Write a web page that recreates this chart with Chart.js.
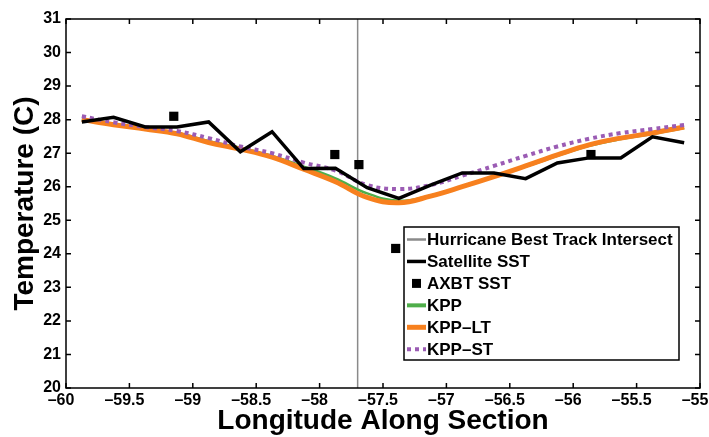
<!DOCTYPE html>
<html>
<head>
<meta charset="utf-8">
<script src="https://cdn.jsdelivr.net/npm/chart.js@4"></script>
<style>
  html, body { margin: 0; padding: 0; background: #fff; }
  #wrap { width: 709px; height: 437px; }
</style>
</head>
<body>
<div id="wrap"><canvas id="sstChart" width="709" height="437"></canvas></div>
<script>
// longitude grid of the section (deg)
const lonGrid = [-59.875, -59.625, -59.375, -59.125, -58.875, -58.625, -58.375, -58.125, -57.875, -57.625,
                 -57.375, -57.125, -56.875, -56.625, -56.375, -56.125, -55.875, -55.625, -55.375, -55.125];
const satelliteSST = [27.93, 28.07, 27.78, 27.78, 27.93, 27.04, 27.64, 26.54, 26.55, 25.97,
                      25.65, 26.05, 26.41, 26.41, 26.24, 26.71, 26.86, 26.86, 27.49, 27.31];
const kppSST   = [28.02, 27.86, 27.73, 27.6, 27.36, 27.16, 26.92, 26.6, 26.25, 25.8,
                  25.58, 25.74, 26.0, 26.3, 26.6, 26.92, 27.22, 27.42, 27.57, 27.75];
const kppLTSST = [28.0, 27.85, 27.72, 27.58, 27.32, 27.12, 26.88, 26.52, 26.15, 25.68,
                  25.52, 25.72, 26.0, 26.3, 26.62, 26.95, 27.25, 27.45, 27.6, 27.78];
const kppSTSST = [28.1, 27.92, 27.78, 27.66, 27.45, 27.2, 27.0, 26.72, 26.48, 26.05,
                  25.93, 26.05, 26.33, 26.62, 26.92, 27.2, 27.43, 27.6, 27.72, 27.84];
// AXBT drops
const axbtLon = [-59.15, -57.88, -57.69, -57.4, -55.86];
const axbtSST = [28.1, 26.96, 26.66, 24.16, 26.96];
// best track crossing
const trackLon = -57.7;
const yRange = [20, 31];
const xRange = [-60, -55];

const FONT = '"Liberation Sans", Arial, Helvetica, sans-serif';

function pts(xs, ys) {
    return xs.map((x, i) => ({ x: x, y: ys[i] }));
}

const framePlugin = {
    id: 'frame',
    afterDraw(chart) {
        const ctx = chart.ctx;
        const a = chart.chartArea;
        const xs = chart.scales.x, ys = chart.scales.y;
        ctx.save();
        ctx.strokeStyle = '#000';
        ctx.lineWidth = 1.5;
        ctx.strokeRect(a.left, a.top, a.right - a.left, a.bottom - a.top);
        ctx.beginPath();
        xs.ticks.forEach(t => {
            const px = xs.getPixelForValue(t.value);
            ctx.moveTo(px, a.bottom); ctx.lineTo(px, a.bottom - 5);
            ctx.moveTo(px, a.top); ctx.lineTo(px, a.top + 5);
        });
        ys.ticks.forEach(t => {
            const py = ys.getPixelForValue(t.value);
            ctx.moveTo(a.left, py); ctx.lineTo(a.left + 5, py);
            ctx.moveTo(a.right, py); ctx.lineTo(a.right - 5, py);
        });
        ctx.stroke();

        // legend box inside the plot
        const bx = 404, by = 227, bw = 275, bh = 133;
        ctx.fillStyle = '#fff';
        ctx.fillRect(bx, by, bw, bh);
        ctx.strokeRect(bx, by, bw, bh);
        ctx.font = 'bold 17px ' + FONT;
        ctx.textBaseline = 'middle';
        ctx.textAlign = 'left';
        chart.data.datasets.forEach((ds, i) => {
            const cy = by + 12.5 + i * 21.95;
            if (ds.showLine === false) {
                ctx.fillStyle = ds.backgroundColor;
                ctx.fillRect(412, cy - 4.5, 9, 9);
            } else {
                ctx.beginPath();
                ctx.strokeStyle = ds.borderColor;
                ctx.lineWidth = ds.legendWidth || ds.borderWidth;
                ctx.setLineDash(ds.borderDash || []);
                ctx.moveTo(407, cy);
                ctx.lineTo(426, cy);
                ctx.stroke();
                ctx.setLineDash([]);
            }
            ctx.fillStyle = '#000';
            ctx.fillText(ds.label, 427, cy + 1);
        });
        ctx.restore();
    }
};

const fmt = v => String(v).replace('-', '\u2013');

const ctx = document.getElementById('sstChart').getContext('2d');
const chart = new Chart(ctx, {
    type: 'scatter',
    data: {
        datasets: [
            {
                label: 'Hurricane Best Track Intersect',
                data: pts([trackLon, trackLon], yRange),
                showLine: true,
                borderColor: '#8a8a8a',
                borderWidth: 1.5,
                legendWidth: 2.5,
                pointRadius: 0,
                order: 6
            },
            {
                label: 'Satellite SST',
                data: pts(lonGrid, satelliteSST),
                showLine: true,
                borderColor: '#000',
                borderWidth: 3.5,
                pointRadius: 0,
                tension: 0,
                order: 1
            },
            {
                label: 'AXBT SST',
                data: pts(axbtLon, axbtSST),
                showLine: false,
                backgroundColor: '#000',
                borderColor: '#000',
                pointStyle: 'rect',
                pointRadius: 6.5,
                borderWidth: 0,
                order: 0
            },
            {
                label: 'KPP',
                data: pts(lonGrid, kppSST),
                showLine: true,
                borderColor: '#4fae4a',
                borderWidth: 2.5,
                legendWidth: 4,
                pointRadius: 0,
                tension: 0.4,
                order: 4
            },
            {
                label: 'KPP\u2013LT',
                data: pts(lonGrid, kppLTSST),
                showLine: true,
                borderColor: '#f7801e',
                borderWidth: 5,
                pointRadius: 0,
                tension: 0.4,
                order: 3
            },
            {
                label: 'KPP\u2013ST',
                data: pts(lonGrid, kppSTSST),
                showLine: true,
                borderColor: '#9b5cb4',
                borderWidth: 4,
                borderDash: [4, 4],
                legendWidth: 4,
                pointRadius: 0,
                tension: 0.4,
                order: 2
            }
        ]
    },
    options: {
        responsive: false,
        animation: false,
        layout: { padding: { left: 0, right: 9, top: 19, bottom: 0 } },
        plugins: { legend: { display: false }, tooltip: { enabled: false } },
        scales: {
            x: {
                type: 'linear',
                min: xRange[0], max: xRange[1],
                grid: { display: false, drawTicks: false },
                border: { display: false },
                ticks: {
                    stepSize: 0.5, padding: 3, labelOffset: -5, color: '#000',
                    font: { family: FONT, size: 16, weight: 'bold' },
                    maxRotation: 0, autoSkip: false,
                    callback: v => fmt(v)
                },
                title: {
                    display: true, text: 'Longitude Along Section', color: '#000',
                    font: { family: FONT, size: 28, weight: 'bold', lineHeight: 1 },
                    padding: { top: 0, bottom: 2 }
                },
                afterFit: s => { s.height = 49; s.paddingRight = 0; s.paddingLeft = 0; }
            },
            y: {
                min: yRange[0], max: yRange[1],
                grid: { display: false, drawTicks: false },
                border: { display: false },
                ticks: {
                    stepSize: 1, padding: 5, color: '#000',
                    font: { family: FONT, size: 16, weight: 'bold' },
                    callback: v => fmt(v)
                },
                title: {
                    display: true, text: 'Temperature (C)', color: '#000',
                    font: { family: FONT, size: 28, weight: 'bold', lineHeight: 1 },
                    padding: { top: 11, bottom: 0 }
                },
                afterFit: s => { s.width = 66; s.paddingTop = 0; s.paddingBottom = 0; }
            }
        }
    },
    plugins: [framePlugin]
});
</script>
</body>
</html>
